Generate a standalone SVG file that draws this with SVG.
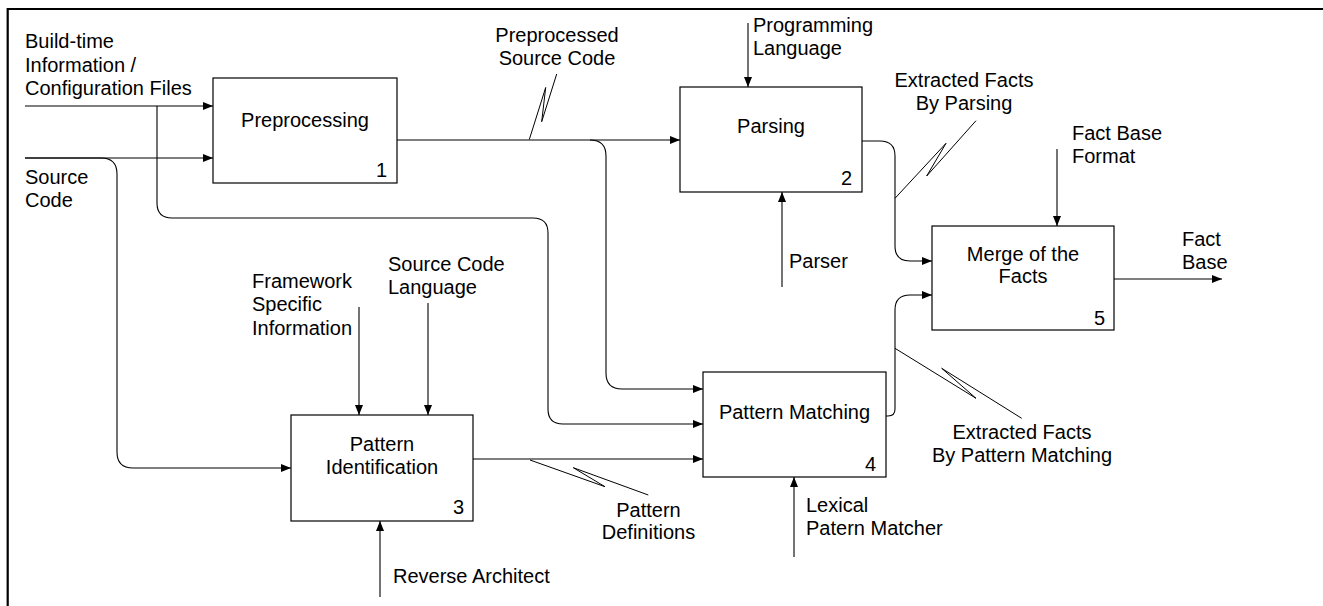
<svg xmlns="http://www.w3.org/2000/svg" width="1323" height="606" viewBox="0 0 1323 606">
<style>
text{font-family:"Liberation Sans",Arial,sans-serif;font-size:20px;fill:#000}
.c{text-anchor:middle}
.n{text-anchor:end}
.box{fill:#fff;stroke:#000;stroke-width:1.2}
.ln{fill:none;stroke:#000;stroke-width:1.1}
.arr{marker-end:url(#ah)}
.sq{fill:none;stroke:#000;stroke-width:1;stroke-linejoin:round}
.frame{stroke:#000;stroke-width:2.2;fill:none}
</style>
<defs>
<marker id="ah" viewBox="0 0 10 8" refX="10" refY="4" markerWidth="10" markerHeight="8" markerUnits="userSpaceOnUse" orient="auto">
<path d="M0,0 L10,4 L0,8 z" fill="#000"/>
</marker>
</defs>
<rect width="1323" height="606" fill="#fff"/>
<path class="frame" d="M7.7,606 V9 H1323"/>

<g id="connectors">
<path class="ln arr" d="M25,106 H213"/>
<path class="ln arr" d="M157,106 V203 Q157,218 172,218 H533 Q548,218 548,233 V409 Q548,424 563,424 H703"/>
<path class="ln arr" d="M25,158 H213"/>
<path class="ln arr" d="M25,158 H101 Q117,158 117,174 V452 Q117,468 133,468 H291"/>
<path class="ln arr" d="M397,140 H680"/>
<path class="ln arr" d="M590,140 Q606,140 606,156 V373 Q606,389 622,389 H703"/>
<path class="ln arr" d="M862,141 H880 Q895,141 895,156 V246 Q895,261 910,261 H932"/>
<path class="ln arr" d="M886,416 H888 Q895,416 895,409 V310 Q895,295 910,295 H932"/>
<path class="ln arr" d="M1114,279 H1222"/>
<path class="ln arr" d="M473,459 H703"/>
<path class="ln arr" d="M748,23 V87"/>
<path class="ln arr" d="M359,307 V415"/>
<path class="ln arr" d="M428,303 V415"/>
<path class="ln arr" d="M1057,149 V226"/>
<path class="ln arr" d="M782,287 V192"/>
<path class="ln arr" d="M380,597 V521"/>
<path class="ln arr" d="M794,557 V477"/>
<path class="sq" d="M529.3,139.5 L545.7,87.5 L541.7,121.7 L556.7,74"/>
<path class="sq" d="M895,198.3 L946,143.3 L926.7,176 L976,120.7"/>
<path class="sq" d="M895,348.3 L976,398.3 L941.7,368.3 L1021.7,418.3"/>
<path class="sq" d="M530,460 L605,486.7 L573.3,467.7 L648.3,495"/>
</g>

<g id="labels">
<text x="25" y="48">Build-time</text>
<text x="25" y="71.5">Information /</text>
<text x="25" y="95">Configuration Files</text>
<text x="25" y="184">Source</text>
<text x="25" y="207">Code</text>
<text class="c" x="557" y="42">Preprocessed</text>
<text class="c" x="557" y="65">Source Code</text>
<text x="753" y="32">Programming</text>
<text x="753" y="55">Language</text>
<text class="c" x="964" y="87">Extracted Facts</text>
<text class="c" x="964" y="110">By Parsing</text>
<text x="789" y="268">Parser</text>
<text x="1072" y="140">Fact Base</text>
<text x="1072" y="163">Format</text>
<text x="1182" y="246">Fact</text>
<text x="1182" y="269">Base</text>
<text x="252" y="288">Framework</text>
<text x="252" y="311">Specific</text>
<text x="252" y="335">Information</text>
<text x="388" y="271">Source Code</text>
<text x="388" y="294">Language</text>
<text x="393" y="583">Reverse Architect</text>
<text class="c" x="648.5" y="517">Pattern</text>
<text class="c" x="648.5" y="539">Definitions</text>
<text x="806" y="512">Lexical</text>
<text x="806" y="535">Patern Matcher</text>
<text class="c" x="1022" y="439">Extracted Facts</text>
<text class="c" x="1022" y="462">By Pattern Matching</text>
</g>

<g id="n1">
<rect class="box" x="213" y="78" width="184" height="105"/>
<text class="c" x="305" y="127">Preprocessing</text>
<text class="n" x="387" y="177">1</text>
</g>
<g id="n2">
<rect class="box" x="680" y="87" width="182" height="105"/>
<text class="c" x="771" y="133">Parsing</text>
<text class="n" x="852" y="185">2</text>
</g>
<g id="n3">
<rect class="box" x="291" y="415" width="182" height="106"/>
<text class="c" x="382" y="451">Pattern</text>
<text class="c" x="382" y="474">Identification</text>
<text class="n" x="464" y="514">3</text>
</g>
<g id="n4">
<rect class="box" x="703" y="372" width="183" height="105"/>
<text class="c" x="794.5" y="419">Pattern Matching</text>
<text class="n" x="876" y="471">4</text>
</g>
<g id="n5">
<rect class="box" x="932" y="226" width="182" height="104"/>
<text class="c" x="1023" y="261">Merge of the</text>
<text class="c" x="1023" y="283">Facts</text>
<text class="n" x="1105" y="325">5</text>
</g>
</svg>
